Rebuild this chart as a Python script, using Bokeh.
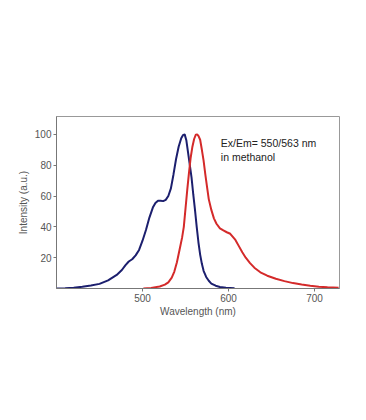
from bokeh.plotting import figure
from bokeh.models import Label, FixedTicker, Range1d
from bokeh.embed import file_html
from bokeh.resources import INLINE

# Excitation spectrum (blue)
ex_wl = [400, 410, 420, 430, 440, 450, 460, 470, 476, 480, 484, 488, 492, 496, 500, 504, 508,
         512, 515, 518, 521, 524, 527, 530, 533, 536, 539, 542, 545, 547, 549, 551, 553, 555,
         557, 559, 561, 563, 565, 567, 569, 571, 574, 577, 580, 585, 590, 597, 607]
ex_int = [0, 0.2, 0.5, 1.2, 2, 3, 5.3, 8.8, 12, 15, 17.5, 19, 21.5, 25, 31, 38, 46,
          52.5, 55.5, 57, 57, 56.7, 57.5, 60, 65, 74, 84, 92, 97.5, 99.5, 100, 96, 88, 80,
          72, 61, 51, 40, 30, 22, 16, 11.5, 7.5, 5, 3.2, 1.8, 1, 0.5, 0.2]

# Emission spectrum (red)
em_wl = [501, 510, 520, 526, 530, 534, 537, 540, 543, 546, 548, 550, 552, 554, 556, 558, 560,
         562, 563.5, 565, 567, 569, 571, 573, 575, 577, 580, 583, 586, 590, 594, 598, 602, 605,
         608, 612, 616, 620, 625, 630, 637, 645, 655, 665, 675, 685, 695, 705, 715, 728]
em_int = [0, 0.4, 1.3, 2.5, 4, 7, 11, 17, 25, 33, 40, 52, 64, 75, 85, 92, 97,
          99.8, 100, 99, 96.5, 90, 83, 74, 66, 58, 51, 45.5, 42, 39, 37.7, 36.5, 35.5, 33.5,
          31.5, 27.5, 23.5, 20, 16.5, 13.5, 10.5, 8.3, 6.3, 4.8, 3.5, 2.6, 1.8, 1.2, 0.8, 0.5]

x_ticks = [500, 600, 700]
y_ticks = [20, 40, 60, 80, 100]

p = figure(width=350, height=404, output_backend="svg", toolbar_location=None,
           x_range=Range1d(400, 729), y_range=Range1d(0, 111.6),
           min_border_left=56, min_border_right=11, min_border_top=116, min_border_bottom=116)
p.frame_width = 283
p.frame_height = 172

p.line(ex_wl, ex_int, line_color="#1c1f6e", line_width=2)
p.line(em_wl, em_int, line_color="#d42a2a", line_width=2)

p.xgrid.visible = False
p.ygrid.visible = False
p.outline_line_color = "#999999"
p.outline_line_width = 1

for ax in (p.xaxis[0], p.yaxis[0]):
    ax.axis_line_color = "#777777"
    ax.major_tick_line_color = "#777777"
    ax.major_tick_in = 0
    ax.major_tick_out = 3
    ax.minor_tick_line_color = None
    ax.major_label_standoff = 2
    ax.major_label_text_font = "Liberation Sans"
    ax.major_label_text_font_size = "10px"
    ax.major_label_text_color = "#555555"
    ax.axis_label_text_font = "Liberation Sans"
    ax.axis_label_text_font_size = "10px"
    ax.axis_label_text_color = "#555555"
    ax.axis_label_text_font_style = "normal"

p.xaxis.ticker = FixedTicker(ticks=x_ticks)
p.yaxis.ticker = FixedTicker(ticks=y_ticks)
p.xaxis.axis_label = "Wavelength (nm)"
p.yaxis.axis_label = "Intensity (a.u.)"
p.xaxis.axis_label_standoff = 1
p.yaxis.axis_label_standoff = 3

for txt, yv in (("Ex/Em= 550/563 nm", 94.1), ("in methanol", 85.0)):
    p.add_layout(Label(x=591, y=yv, text=txt, text_font="Liberation Sans",
                       text_font_size="10.5px", text_color="#222222",
                       text_baseline="middle", text_align="left"))

open("out.html", "w").write(file_html(p, INLINE))
